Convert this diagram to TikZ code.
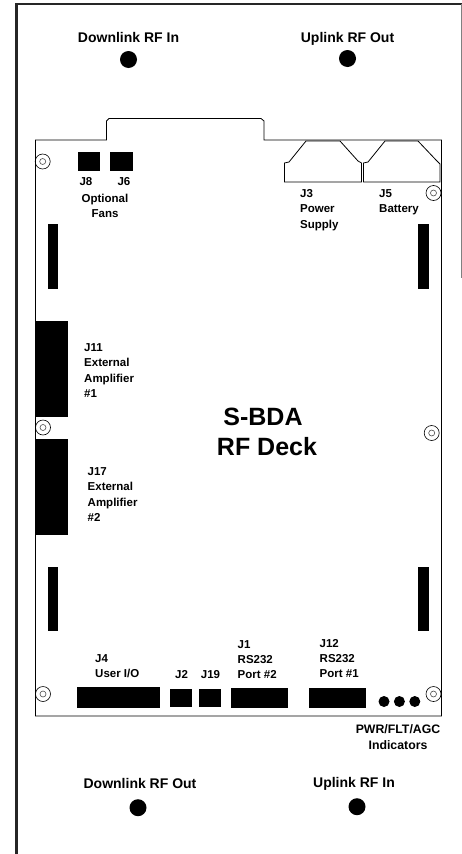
\documentclass[tikz,border=0pt]{standalone}
\usepackage{fontspec}
\setmainfont{Liberation Sans}
\usetikzlibrary{positioning}

\begin{document}
\begin{tikzpicture}[x=1pt,
                    y=-1pt,
                    thin,
                    conn/.style={rectangle,fill=black,inner sep=0pt},
                    port/.style={circle,fill=black,inner sep=0pt,minimum size=17pt},
                    led/.style={circle,fill=black,inner sep=0pt,minimum size=11pt},
                    hole/.style={circle,draw,line width=0.6pt,inner sep=0pt,minimum size=15pt},
                    pin/.style={circle,draw=black!70,line width=0.6pt,inner sep=0pt,minimum size=6pt},
                    lbl/.style={inner sep=0pt,align=left,font=\fontsize{11.5}{15.2}\selectfont\bfseries},
                    io/.style={inner sep=0pt,align=center,font=\fontsize{14}{16}\selectfont\bfseries},
                    big/.style={inner sep=0pt,font=\fontsize{25}{28}\selectfont\bfseries},
                    ]
  \useasboundingbox (0,0) rectangle (462,854);
  % enclosure
  \draw [line width=2.6pt,black!85] (16.2,854) -- (16.2,4) -- (462,4);
  \draw [black!50,line width=0.7pt] (461.4,4) -- (461.4,278);
  % board outline
  \draw [line width=0.8pt] (35.5,140) -- (106.5,140) -- (106.5,121) -- (109,118.5) -- (261,118.5) -- (264,121) -- (264,140)
        -- (441.5,140) -- (441.5,716) -- (35.5,716) -- cycle;
  % sockets
  \draw [line width=0.8pt] (284.5,182) -- (284.5,163) -- (289,162) -- (306,141) -- (340,141) -- (358,161) -- (361.5,163) -- (361.5,182) -- cycle;
  \draw [line width=0.8pt] (363.5,182) -- (363.5,163) -- (368,162) -- (385,141) -- (418,141) -- (436,160) -- (440,164) -- (440,182) -- cycle;
  % rf ports
  \node[port] (dlin) at (128.5,59.5) {};
  \node[port] (ulout) at (347.5,58.5) {};
  \node[port] (dlout) at (138,807.7) {};
  \node[port] (ulin) at (357,806.7) {};
  \node[io] (dlinl) [above=13pt of dlin.north,anchor=center] {Downlink RF In};
  \node[io] (uloutl) [above=10.5pt of ulout.north,anchor=center] {Uplink RF Out};
  \node[io] (dloutl) [above=15.5pt of dlout.north,anchor=center,xshift=2pt] {Downlink RF Out};
  \node[io] (ulinl) [above=14.5pt of ulin.north,anchor=center,xshift=-3pt] {Uplink RF In};
  % connectors
  \node[conn,minimum width=22.5pt,minimum height=18.5pt] (j8) at (89.2,161.7) {};
  \node[conn,minimum width=22.5pt,minimum height=18.5pt] (j6) at (121.7,161.7) {};
  \node[conn,minimum width=10.5pt,minimum height=64.5pt] (barul) at (53.2,256.7) {};
  \node[conn,minimum width=10.5pt,minimum height=64.5pt] (barur) at (423.7,256.7) {};
  \node[conn,minimum width=10.5pt,minimum height=64.5pt] (barll) at (53.2,599) {};
  \node[conn,minimum width=10.5pt,minimum height=64.5pt] (barlr) at (423.7,599) {};
  \node[conn,minimum width=32pt,minimum height=96pt] (j11) at (51.5,368.7) {};
  \node[conn,minimum width=32pt,minimum height=96pt] (j17) at (51.5,487.3) {};
  \node[conn,minimum width=83pt,minimum height=20.7pt] (j4) at (118.5,697.7) {};
  \node[conn,minimum width=22.5pt,minimum height=18pt] (j2) at (181.2,697.7) {};
  \node[conn,minimum width=22.5pt,minimum height=18pt] (j19) at (210.2,697.7) {};
  \node[conn,minimum width=57pt,minimum height=20pt] (j1) at (259,698) {};
  \node[conn,minimum width=57pt,minimum height=20pt] (j12) at (337.5,698) {};
  % indicators
  \node[led] (pwr) at (384,701.5) {};
  \node[led] (flt) [right=4pt of pwr] {};
  \node[led] (agc) [right=4pt of flt] {};
  % mounting holes
  \foreach \name/\px/\py in {a/42.7/161.5,b/433.5/193,c/43/427.5,d/431.7/433,e/43/694,f/433.5/694}{
    \node[hole] (h\name) at (\px,\py) {};
    \node[pin] (p\name) at (\px,\py) {};
  }
  % labels
  \node[lbl] (j8l) at (86,181.7) {J8};
  \node[lbl] (j6l) at (124,181.7) {J6};
  \node[lbl,align=center] (fans) at (105,205.5) {Optional\\Fans};
  \node[lbl,anchor=west] (j3l) at (300,210) {J3\\Power\\Supply};
  \node[lbl,anchor=west] (j5l) at (379,202) {J5\\Battery};
  \node[lbl,anchor=west] (j11l) at (84,370.5) {J11\\External\\Amplifier\\\#1};
  \node[lbl,anchor=west] (j17l) at (87.5,494.5) {J17\\External\\Amplifier\\\#2};
  \node[big] (sbda) at (263,416.7) {S-BDA};
  \node[big] (deck) at (267,447) {RF Deck};
  \node[lbl,anchor=west] (j4l) at (95,666.5) {J4\\User I/O};
  \node[lbl] (j2l) at (181.5,674.7) {J2};
  \node[lbl] (j19l) at (210.5,674.7) {J19};
  \node[lbl,anchor=west] (j1l) at (237.5,659.5) {J1\\RS232\\Port \#2};
  \node[lbl,anchor=west] (j12l) at (319.5,658.7) {J12\\RS232\\Port \#1};
  \node[lbl,align=center,font=\fontsize{12.3}{16}\selectfont\bfseries] (ind) at (398,737) {PWR/FLT/AGC\\Indicators};
\end{tikzpicture}
\end{document}
